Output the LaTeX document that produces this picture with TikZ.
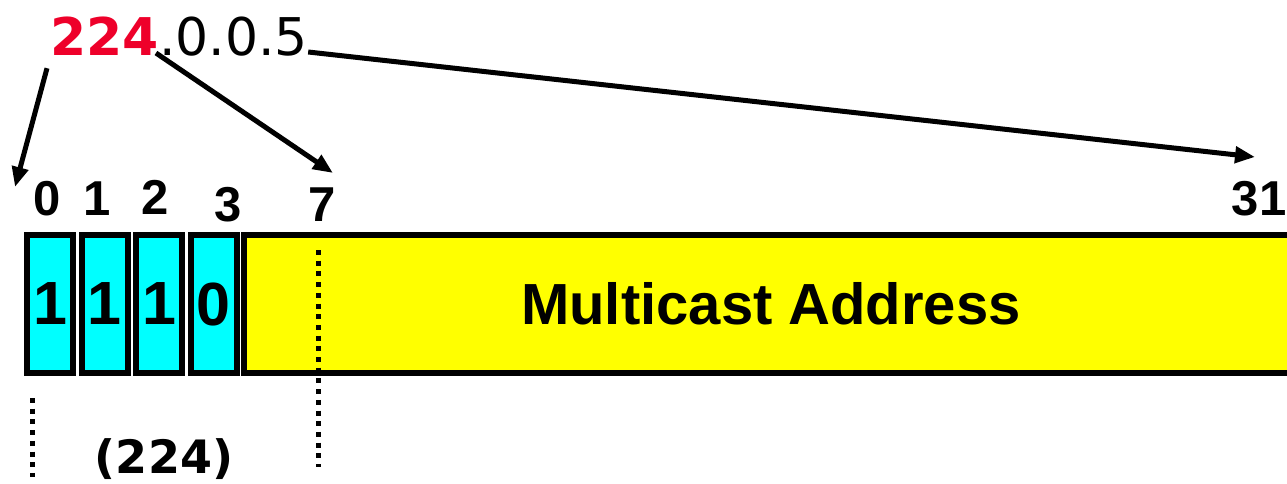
\documentclass[tikz,border=0pt]{standalone}
\usepackage{fontspec}
\setmainfont{Liberation Sans}
\newfontfamily\ipfont{DejaVu Sans}
\usetikzlibrary{arrows.meta}
\definecolor{ipred}{RGB}{238,0,42}
\definecolor{bitcyan}{RGB}{0,255,255}
\definecolor{addryellow}{RGB}{255,255,0}

\begin{document}
\begin{tikzpicture}[x=1pt, y=-1pt, >={Triangle[length=20pt,width=16pt]},
	bitbox/.style={draw, line width=6pt, fill=bitcyan, minimum width=46pt, minimum height=138pt, inner sep=0pt, font=\fontsize{61}{61}\selectfont\bfseries},
	bitnum/.style={anchor=base, inner sep=0pt, font=\fontsize{49}{49}\selectfont\bfseries},
	pointer/.style={->, line width=5pt},
	boundary/.style={line width=5pt, dash pattern=on 5pt off 5.7pt}]
	\useasboundingbox (0,0) rectangle (1287,484);
	
	%dotted-decimal address
	\node[anchor=base west, inner sep=0pt, text=ipred, font=\ipfont\fontsize{52}{52}\selectfont\bfseries] (first) at (50,56) {224};
	\node[anchor=base west, inner sep=0pt, font=\ipfont\fontsize{52}{52}\selectfont] (rest) at (first.base east) {.0.0.5};
	
	%class D prefix bits
	\foreach \bit [count=\i from 0] in {1,1,1,0}
		\node[bitbox] (bit\i) at (50+54.5*\i,304) {\bit};
	%rest of the address
	\node[draw, line width=6pt, fill=addryellow, minimum width=1055pt, minimum height=138pt, anchor=west, inner sep=0pt, font=\fontsize{58}{58}\selectfont\bfseries] (addr) at (240.5,304) {Multicast Address};
	
	%bit positions
	\node[bitnum] (pos0) at (47.5,215) {0};
	\node[bitnum] (pos1) at (97.5,215) {1};
	\node[bitnum] (pos2) at (155,214) {2};
	\node[bitnum] (pos3) at (228,221) {3};
	\node[bitnum] (pos7) at (322,221) {7};
	\node[bitnum] (pos31) at (1259,215) {31};
	
	%where the octets go
	\coordinate (to0) at (15,187);
	\coordinate (to7) at (333,173);
	\coordinate (to31) at (1255,157);
	\draw[pointer] ([xshift=-3pt,yshift=-12pt]first.south west) -- (to0);
	\draw[pointer] ([xshift=-3pt,yshift=3pt]first.base east) -- (to7);
	\draw[pointer] ([yshift=4pt]rest.base east) -- (to31);
	
	%first octet boundaries
	\draw[boundary] (32,398) -- (32,477);
	\draw[boundary] (318,250) -- (318,467);
	\node[anchor=base, inner sep=0pt, font=\ipfont\fontsize{46}{46}\selectfont\bfseries] (octet) at (164,473) {(224)};
\end{tikzpicture}
\end{document}
